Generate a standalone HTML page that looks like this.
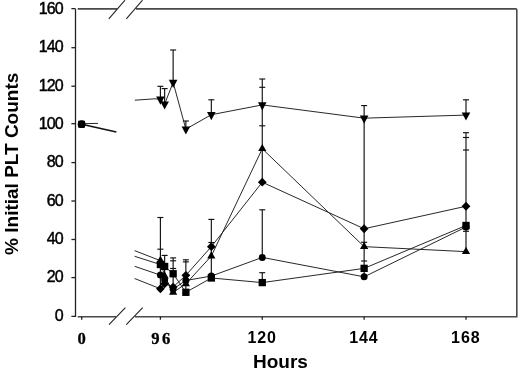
<!DOCTYPE html><html><head><meta charset="utf-8"><title>% Initial PLT Counts vs Hours</title>
<style>html,body{margin:0;padding:0;background:#fff;}svg{display:block;}text{font-family:"Liberation Sans",sans-serif;fill:#000;}</style></head><body>
<svg width="520" height="370" viewBox="0 0 520 370">
<rect width="520" height="370" fill="#fff"/>
<g stroke="#4a4a4a" stroke-width="1.6" fill="none" stroke-linecap="butt">
<path d="M77.7 8.9 H117 M136 8.9 H515.8 Q516.8 8.9 516.8 9.9 V316.7 H135 M116 316.7 H77.7"/>
</g>
<g stroke="#222" stroke-width="1.3" fill="none">
<path d="M71.4 8.7 H74.6 Q75.5 8.7 75.5 9.6 V316.45 H71.4"/>
<path d="M71.4 277.60 H75.5"/>
<path d="M71.4 239.50 H75.5"/>
<path d="M71.4 201.00 H75.5"/>
<path d="M71.4 162.60 H75.5"/>
<path d="M71.4 123.70 H75.5"/>
<path d="M71.4 86.20 H75.5"/>
<path d="M71.4 47.70 H75.5"/>
<path d="M81.70 316.6 V319.7"/>
<path d="M160.40 316.6 V319.7"/>
<path d="M262.27 316.6 V319.7"/>
<path d="M364.13 316.6 V319.7"/>
<path d="M466.00 316.6 V319.7"/>
</g>
<g stroke="#222" stroke-width="1.1" fill="none">
<path d="M108.8 18.8 L125 0.2 M126.3 18.8 L142.5 0.2"/>
<path d="M109 324.6 L125.4 307.6 M126.3 324.6 L142.7 307.6"/>
</g>
<text x="62.8" y="320.60" font-size="16" text-anchor="end" letter-spacing="-0.85" stroke="#000" stroke-width="0.45">0</text>
<text x="62.8" y="281.95" font-size="16" text-anchor="end" letter-spacing="-0.85" stroke="#000" stroke-width="0.45">20</text>
<text x="62.8" y="244.40" font-size="16" text-anchor="end" letter-spacing="-0.85" stroke="#000" stroke-width="0.45">40</text>
<text x="62.8" y="205.65" font-size="16" text-anchor="end" letter-spacing="-0.85" stroke="#000" stroke-width="0.45">60</text>
<text x="62.8" y="166.95" font-size="16" text-anchor="end" letter-spacing="-0.85" stroke="#000" stroke-width="0.45">80</text>
<text x="62.8" y="129.20" font-size="16" text-anchor="end" letter-spacing="-0.85" stroke="#000" stroke-width="0.45">100</text>
<text x="62.8" y="90.55" font-size="16" text-anchor="end" letter-spacing="-0.85" stroke="#000" stroke-width="0.45">120</text>
<text x="62.8" y="51.95" font-size="16" text-anchor="end" letter-spacing="-0.85" stroke="#000" stroke-width="0.45">140</text>
<text x="62.8" y="14.10" font-size="16" text-anchor="end" letter-spacing="-0.85" stroke="#000" stroke-width="0.45">160</text>
<text transform="translate(81.7 343.7) scale(0.95 1)" font-size="17.5" font-weight="bold" text-anchor="middle" stroke="#000" stroke-width="0.3" style="font-family:'Liberation Serif',serif">0</text>
<text transform="translate(161.9 343.7) scale(0.95 1)" font-size="17.5" font-weight="bold" text-anchor="middle" letter-spacing="2.4" stroke="#000" stroke-width="0.3" style="font-family:'Liberation Serif',serif">96</text>
<text x="262.1" y="343.0" font-size="16" font-weight="bold" text-anchor="middle" letter-spacing="0.9">120</text>
<text x="363.9" y="343.0" font-size="16" font-weight="bold" text-anchor="middle" letter-spacing="0.9">144</text>
<text x="465.8" y="343.0" font-size="16" font-weight="bold" text-anchor="middle" letter-spacing="0.9">168</text>
<text x="280.5" y="367.8" font-size="19" font-weight="bold" text-anchor="middle">Hours</text>
<text transform="translate(18.1 163.8) rotate(-90)" font-size="19" font-weight="bold" text-anchor="middle">% Initial PLT Counts</text>
<g stroke="#111" stroke-width="1.15" fill="none" stroke-linejoin="round">
<path d="M160.40 86.3 V100.8"/>
<path d="M160.40 217.5 V288"/>
<path d="M164.64 88.6 V105.6"/>
<path d="M164.64 255.4 V285"/>
<path d="M173.13 50 V83.8"/>
<path d="M173.13 257.9 V290.5"/>
<path d="M185.87 121 V130.6"/>
<path d="M185.87 259.8 V292"/>
<path d="M211.33 99.8 V116"/>
<path d="M211.33 219.4 V278"/>
<path d="M262.27 79 V182.3"/>
<path d="M262.27 209.8 V257.5"/>
<path d="M262.27 272.7 V283"/>
<path d="M364.13 105.6 V277"/>
<path d="M466.00 99.8 V115.8"/>
<path d="M466.00 132.7 V251"/>
<path d="M157.40 86.3 H163.40"/>
<path d="M157.40 217.5 H163.40"/>
<path d="M157.40 249.2 H163.40"/>
<path d="M161.64 88.6 H167.64"/>
<path d="M161.64 255.4 H167.64"/>
<path d="M170.13 50 H176.13"/>
<path d="M170.13 257.9 H176.13"/>
<path d="M170.13 260.8 H176.13"/>
<path d="M170.13 268.5 H176.13"/>
<path d="M182.87 121 H188.87"/>
<path d="M182.87 259.8 H188.87"/>
<path d="M182.87 261.9 H188.87"/>
<path d="M208.33 99.8 H214.33"/>
<path d="M208.33 219.4 H214.33"/>
<path d="M208.33 242.5 H214.33"/>
<path d="M259.27 79 H265.27"/>
<path d="M259.27 87.3 H265.27"/>
<path d="M259.27 125.8 H265.27"/>
<path d="M259.27 209.8 H265.27"/>
<path d="M259.27 272.7 H265.27"/>
<path d="M361.13 105.6 H367.13"/>
<path d="M361.13 242.3 H367.13"/>
<path d="M361.13 261 H367.13"/>
<path d="M463.00 99.8 H469.00"/>
<path d="M463.00 132.7 H469.00"/>
<path d="M463.00 137.5 H469.00"/>
<path d="M463.00 150 H469.00"/>
<path d="M463.00 231.3 H469.00"/>
</g>
<g stroke="#1c1c1c" stroke-width="0.95" fill="none" stroke-linejoin="round">
<path d="M160.40 99.32 L164.64 104.13 L173.13 82.40 L185.87 129.13 L211.33 114.71 L262.27 104.90 L364.13 118.17 L466.00 115.09"/>
<path d="M160.40 260.68 L164.64 276.06 L173.13 292.41 L185.87 283.76 L211.33 256.06 L262.27 148.75 L364.13 246.64 L466.00 251.64"/>
<path d="M160.40 264.52 L164.64 266.45 L173.13 273.75 L185.87 292.31 L211.33 277.99 L262.27 282.60 L364.13 268.37 L466.00 225.48"/>
<path d="M160.40 288.76 L164.64 283.76 L173.13 287.03 L185.87 275.29 L211.33 246.64 L262.27 182.21 L364.13 228.75 L466.00 206.25"/>
<path d="M160.40 275.10 L164.64 279.91 L173.13 288.95 L185.87 280.49 L211.33 276.06 L262.27 257.41 L364.13 276.83 L466.00 227.02"/>
<path d="M134.8 100.2 L155 98.8 L160.40 99.32"/>
<path d="M134.6 250.6 L160.40 260.68"/>
<path d="M134.6 256.3 L160.40 264.52"/>
<path d="M134.6 266.3 L160.40 275.10"/>
<path d="M134.6 278.5 L160.40 288.76"/>
<path d="M81.7 123.7 L98 123.4"/>
</g>
<path d="M81.7 124.2 L116.4 132" stroke="#111" stroke-width="1.6" fill="none"/>
<g fill="#000" stroke="none">
<path d="M156.10 96.61 H164.70 L160.40 104.81 Z"/>
<path d="M160.34 101.42 H168.94 L164.64 109.62 Z"/>
<path d="M168.83 79.69 H177.43 L173.13 87.89 Z"/>
<path d="M181.57 126.42 H190.17 L185.87 134.62 Z"/>
<path d="M207.03 112.00 H215.63 L211.33 120.20 Z"/>
<path d="M257.97 102.19 H266.57 L262.27 110.39 Z"/>
<path d="M359.83 115.46 H368.43 L364.13 123.66 Z"/>
<path d="M461.70 112.38 H470.30 L466.00 120.58 Z"/>
<path d="M156.30 263.05 H164.50 L160.40 255.85 Z"/>
<path d="M160.54 278.44 H168.74 L164.64 271.24 Z"/>
<path d="M169.03 294.79 H177.23 L173.13 287.59 Z"/>
<path d="M181.77 286.13 H189.97 L185.87 278.93 Z"/>
<path d="M207.23 258.44 H215.43 L211.33 251.24 Z"/>
<path d="M258.17 151.12 H266.37 L262.27 143.92 Z"/>
<path d="M360.03 249.01 H368.23 L364.13 241.81 Z"/>
<path d="M461.90 254.01 H470.10 L466.00 246.81 Z"/>
<circle cx="160.40" cy="275.10" r="3.5"/>
<circle cx="164.64" cy="279.91" r="3.5"/>
<circle cx="173.13" cy="288.95" r="3.5"/>
<circle cx="185.87" cy="280.49" r="3.5"/>
<circle cx="211.33" cy="276.06" r="3.5"/>
<circle cx="262.27" cy="257.41" r="3.5"/>
<circle cx="364.13" cy="276.83" r="3.5"/>
<circle cx="466.00" cy="227.02" r="3.5"/>
<path d="M156.00 288.76 L160.40 284.36 L164.80 288.76 L160.40 293.16 Z"/>
<path d="M160.24 283.76 L164.64 279.36 L169.04 283.76 L164.64 288.16 Z"/>
<path d="M168.73 287.03 L173.13 282.63 L177.53 287.03 L173.13 291.43 Z"/>
<path d="M181.47 275.29 L185.87 270.89 L190.27 275.29 L185.87 279.69 Z"/>
<path d="M206.93 246.64 L211.33 242.24 L215.73 246.64 L211.33 251.04 Z"/>
<path d="M257.87 182.21 L262.27 177.81 L266.67 182.21 L262.27 186.61 Z"/>
<path d="M359.73 228.75 L364.13 224.35 L368.53 228.75 L364.13 233.15 Z"/>
<path d="M461.60 206.25 L466.00 201.85 L470.40 206.25 L466.00 210.65 Z"/>
<rect x="156.75" y="260.87" width="7.3" height="7.3"/>
<rect x="160.99" y="262.80" width="7.3" height="7.3"/>
<rect x="169.48" y="270.10" width="7.3" height="7.3"/>
<rect x="182.22" y="288.66" width="7.3" height="7.3"/>
<rect x="207.68" y="274.34" width="7.3" height="7.3"/>
<rect x="258.62" y="278.95" width="7.3" height="7.3"/>
<rect x="360.48" y="264.72" width="7.3" height="7.3"/>
<rect x="462.35" y="221.83" width="7.3" height="7.3"/>
<rect x="78.20" y="120.80" width="6.8" height="6.8"/>
<circle cx="81.60" cy="124.20" r="3.9"/>
</g>
</svg></body></html>
